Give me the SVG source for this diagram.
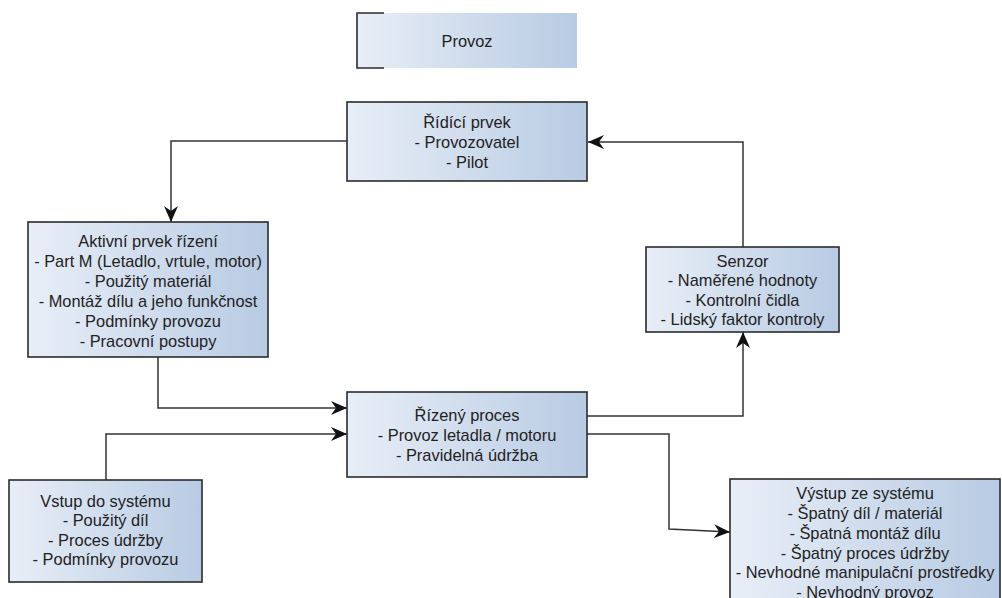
<svg xmlns="http://www.w3.org/2000/svg" width="1002" height="598" viewBox="0 0 1002 598">
<style>
.box{fill:url(#g);stroke:#2b2b2b;stroke-width:1.6}
.t{font-family:"Liberation Sans",Arial,sans-serif;font-size:16.4px;fill:#222;text-anchor:middle}
.c{fill:none;stroke:#333;stroke-width:1.5}
</style>
<defs>
<linearGradient id="g" x1="0" y1="0" x2="1" y2="0">
<stop offset="0" stop-color="#e8eef7"/>
<stop offset="1" stop-color="#b8cbe3"/>
</linearGradient>
<marker id="a" viewBox="0 0 16 14" refX="16" refY="7" markerWidth="16" markerHeight="14" markerUnits="userSpaceOnUse" orient="auto">
<path d="M0,0 L16,7 L0,14 L5,7 Z" fill="#111"/>
</marker>
</defs>
<rect width="1002" height="598" fill="#fff"/>
<g id="provoz">
<rect x="357" y="13" width="220" height="55" fill="url(#g)"/>
<path d="M384,13 H357 V68 H384" fill="none" stroke="#2b2b2b" stroke-width="1.6"/>
<text class="t" x="467" y="47">Provoz</text>
</g>
<g id="connectors">
<polyline class="c" points="347,141 171,141 171,222" marker-end="url(#a)"/>
<polyline class="c" points="743,247 743,142 588,142" marker-end="url(#a)"/>
<polyline class="c" points="158,357 158,408 347,408" marker-end="url(#a)"/>
<polyline class="c" points="106,480 106,434 347,434" marker-end="url(#a)"/>
<polyline class="c" points="587,416 743,416 743,332" marker-end="url(#a)"/>
<polyline class="c" points="587,434 669,434 669,529 730,532" marker-end="url(#a)"/>
</g>
<g id="ridici">
<rect class="box" x="347" y="102" width="240" height="79"/>
<text class="t" x="467" y="128">Řídící prvek</text>
<text class="t" x="467" y="148">- Provozovatel</text>
<text class="t" x="467" y="168">- Pilot</text>
</g>
<g id="aktivni">
<rect class="box" x="28" y="222" width="240" height="135"/>
<text class="t" x="148" y="247">Aktivní prvek řízení</text>
<text class="t" x="148" y="267">- Part M (Letadlo, vrtule, motor)</text>
<text class="t" x="148" y="287">- Použitý materiál</text>
<text class="t" x="148" y="307">- Montáž dílu a jeho funkčnost</text>
<text class="t" x="148" y="327">- Podmínky provozu</text>
<text class="t" x="148" y="347">- Pracovní postupy</text>
</g>
<g id="senzor">
<rect class="box" x="646" y="247" width="193" height="85"/>
<text class="t" x="742.5" y="266.5">Senzor</text>
<text class="t" x="742.5" y="286">- Naměřené hodnoty</text>
<text class="t" x="742.5" y="305.5">- Kontrolní čidla</text>
<text class="t" x="742.5" y="325">- Lidský faktor kontroly</text>
</g>
<g id="rizeny">
<rect class="box" x="347" y="392" width="240" height="85"/>
<text class="t" x="467" y="421">Řízený proces</text>
<text class="t" x="467" y="441">- Provoz letadla / motoru</text>
<text class="t" x="467" y="461">- Pravidelná údržba</text>
</g>
<g id="vstup">
<rect class="box" x="9" y="480" width="193" height="102"/>
<text class="t" x="105.5" y="506.5">Vstup do systému</text>
<text class="t" x="105.5" y="526">- Použitý díl</text>
<text class="t" x="105.5" y="545.5">- Proces údržby</text>
<text class="t" x="105.5" y="565">- Podmínky provozu</text>
</g>
<g id="vystup">
<rect class="box" x="730" y="479" width="270" height="140"/>
<text class="t" x="865" y="499">Výstup ze systému</text>
<text class="t" x="865" y="519">- Špatný díl / materiál</text>
<text class="t" x="865" y="539">- Špatná montáž dílu</text>
<text class="t" x="865" y="558.5">- Špatný proces údržby</text>
<text class="t" x="865" y="578">- Nevhodné manipulační prostředky</text>
<text class="t" x="865" y="598">- Nevhodný provoz</text>
</g>
</svg>
